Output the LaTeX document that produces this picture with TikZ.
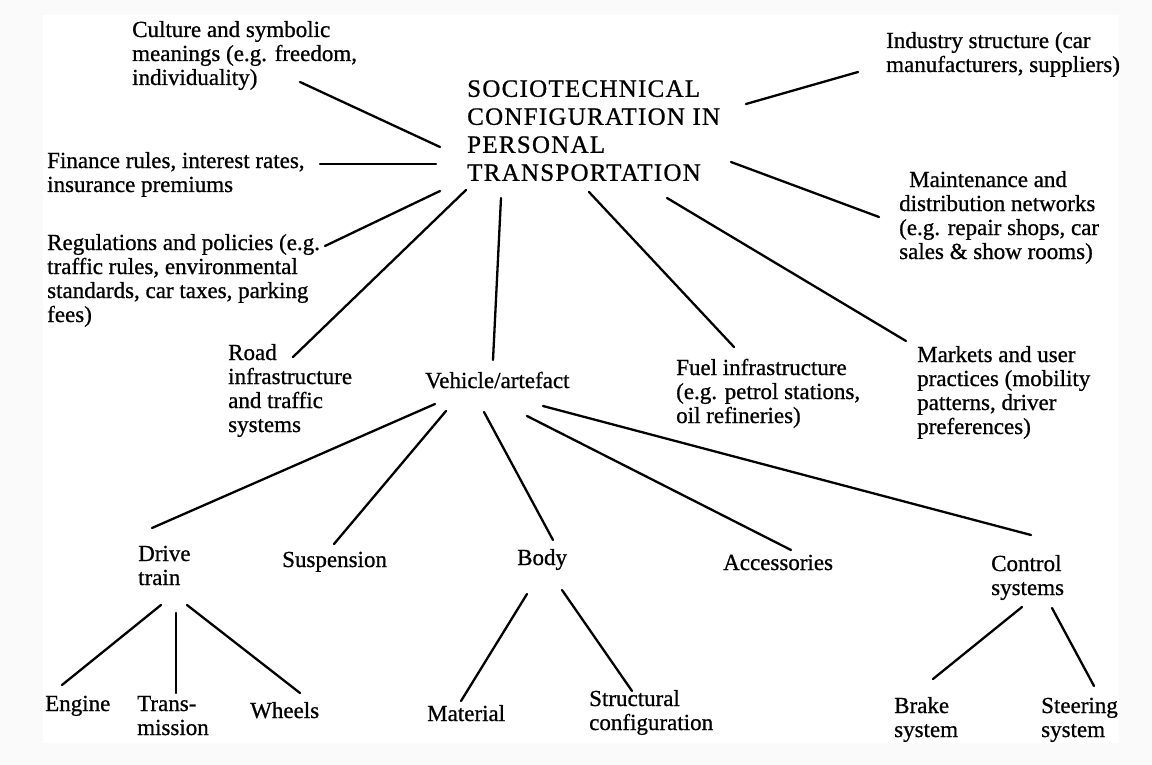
\documentclass[tikz,border=0pt]{standalone}
\usepackage{fontspec}
\setmainfont{Liberation Serif}
\newfontfamily\bodyfont[FakeBold=0.8]{Liberation Serif}
\newfontfamily\titlefont[LetterSpace=5,FakeBold=0.8]{Liberation Serif}
\begin{document}
\begin{tikzpicture}[x=1pt,y=-1pt,
  lbl/.style={anchor=north west, inner sep=0pt, align=left, font=\bodyfont\fontsize{23}{24}\selectfont},
  ttl/.style={anchor=north west, inner sep=0pt, align=left, font=\titlefont\fontsize{25}{28}\selectfont},
  link/.style={line width=2.3pt, line cap=round}]
\fill[black!2] (0,0) rectangle (1152,765);
\fill[white] (43,15) rectangle (1119,743);
\useasboundingbox (0,0) rectangle (1152,765);

% ---- nodes ----
\node[ttl] (title) at (467,77) {\strut SOCIOTECHNICAL\\CONFIGURATION IN\\PERSONAL\\TRANSPORTATION};
\node[lbl] (culture) at (132,20) {\strut Culture and symbolic\\meanings (e.g. freedom,\\individuality)};
\node[lbl] (finance) at (47,151) {\strut Finance rules, interest rates,\\insurance premiums};
\node[lbl] (regul) at (47,233) {\strut Regulations and policies (e.g.\\traffic rules, environmental\\standards, car taxes, parking\\fees)};
\node[lbl] (road) at (228,343) {\strut Road\\infrastructure\\and traffic\\systems};
\node[lbl] (vehicle) at (425,371) {\strut Vehicle/artefact};
\node[lbl] (fuel) at (676,358) {\strut Fuel infrastructure\\(e.g. petrol stations,\\oil refineries)};
\node[lbl] (markets) at (917,345) {\strut Markets and user\\practices (mobility\\patterns, driver\\preferences)};
\node[lbl] (maint) at (899,170) {\strut\hspace*{10pt}Maintenance and\\distribution networks\\(e.g. repair shops, car\\sales \& show rooms)};
\node[lbl] (industry) at (886,31) {\strut Industry structure (car\\manufacturers, suppliers)};

\node[lbl] (drive) at (138,544) {\strut Drive\\train};
\node[lbl] (susp) at (282,550) {\strut Suspension};
\node[lbl] (body) at (517,548) {\strut Body};
\node[lbl] (access) at (723,553) {\strut Accessories};
\node[lbl] (control) at (991,554) {\strut Control\\systems};
\node[lbl] (engine) at (45,694) {\strut Engine};
\node[lbl] (trans) at (137,694) {\strut Trans-\\mission};
\node[lbl] (wheels) at (250,701) {\strut Wheels};
\node[lbl] (material) at (427,704) {\strut Material};
\node[lbl] (struct) at (589,689) {\strut Structural\\configuration};
\node[lbl] (brake) at (894,696) {\strut Brake\\system};
\node[lbl] (steer) at (1041,696) {\strut Steering\\system};

% ---- connector end points ----
\coordinate (culA) at (300,82);   \coordinate (culB) at (440,147);
\coordinate (finA) at (320,164);  \coordinate (finB) at (436,164);
\coordinate (regA) at (325,246);  \coordinate (regB) at (440,191);
\coordinate (roaA) at (293,357);  \coordinate (roaB) at (466,190);
\coordinate (vehA) at (493,360);  \coordinate (vehB) at (501,198);
\coordinate (indA) at (746,104);  \coordinate (indB) at (858,72);
\coordinate (maiA) at (731,162);  \coordinate (maiB) at (879,217);
\coordinate (fueA) at (589,192);  \coordinate (fueB) at (734,347);
\coordinate (marA) at (667,198);  \coordinate (marB) at (906,341);

\coordinate (drvA) at (435,404);  \coordinate (drvB) at (152,528);
\coordinate (susA) at (446,411);  \coordinate (susB) at (334,544);
\coordinate (bodA) at (484,412);  \coordinate (bodB) at (553,540);
\coordinate (accA) at (527,416);  \coordinate (accB) at (791,550);
\coordinate (conA) at (543,406);  \coordinate (conB) at (1031,535);
\coordinate (engA) at (161,605);  \coordinate (engB) at (62,685);
\coordinate (traA) at (176,613);  \coordinate (traB) at (176,693);
\coordinate (wheA) at (187,605);  \coordinate (wheB) at (300,693);
\coordinate (matA) at (527,594);  \coordinate (matB) at (461,701);
\coordinate (strA) at (562,590);  \coordinate (strB) at (632,691);
\coordinate (braA) at (1022,607); \coordinate (braB) at (933,679);
\coordinate (steA) at (1052,608); \coordinate (steB) at (1094,686);

% ---- connectors ----
\foreach \p in {cul,fin,reg,roa,veh,ind,mai,fue,mar,drv,sus,bod,acc,con,eng,tra,whe,mat,str,bra,ste}
  \draw[link] (\p A) -- (\p B);
\end{tikzpicture}
\end{document}
